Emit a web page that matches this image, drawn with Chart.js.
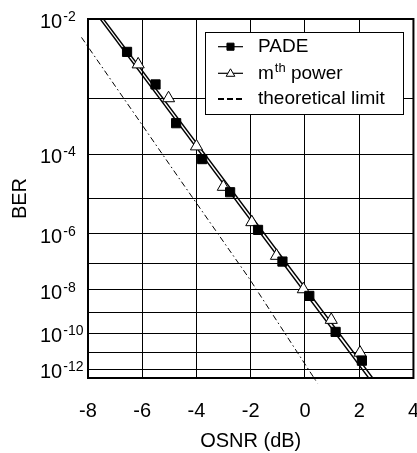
<!DOCTYPE html>
<html>
<head>
<meta charset="utf-8">
<script src="https://cdn.jsdelivr.net/npm/chart.js@4/dist/chart.umd.min.js"></script>
<style>
  html, body { margin: 0; padding: 0; overflow: hidden; background: #fff; }
  #wrap { width: 440px; height: 453px; }
</style>
</head>
<body>
<div id="wrap"><canvas id="c"></canvas></div>
<script>
// measured points: OSNR in dB, BER
const padeOsnr = [-6.56, -5.51, -4.75, -3.79, -2.76, -1.73, -0.83, 0.16, 1.13, 2.10];
const padeBer  = [4.3e-3, 1.6e-3, 3.9e-4, 8.0e-5, 1.4e-5, 1.3e-6, 1.2e-7, 5.6e-9, 1.2e-10, 3.2e-12];
const mthOsnr  = [-6.15, -5.03, -4.00, -3.01, -1.96, -1.05, -0.06, 0.97, 2.03];
const mthBer   = [3.0e-3, 1.0e-3, 1.45e-4, 1.9e-5, 2.2e-6, 1.9e-7, 1.06e-8, 4.7e-10, 9.3e-12];

// straight fits through each set (end points)
const padeFitOsnr = [-7.55, 2.35];
const padeFitBer  = [1e-2, 2.75e-13];
const mthFitOsnr  = [-7.43, 2.50];
const mthFitBer   = [1e-2, 2.75e-13];

// theoretical limit
const limitOsnr = [-8.24, -4.60, -2.06, 0.46];
const limitBer  = [6.35e-3, 2.77e-5, 2.89e-8, 1.26e-13];

const xTicks = [-8, -6, -4, -2, 0, 2, 4];
const berGrid = [-2, -3, -4, -5, -6, -7, -8, -9, -10, -11, -12];
const berLabels = [-2, -4, -6, -8, -10, -12];
const berTop = 1e-2;
const berBottom = 2.75e-13;

const FONT = '"Liberation Sans", Arial, Helvetica, sans-serif';

// BER axis: log10(-log10(BER)) is linear
const q = b => Math.log10(-Math.log10(b));
const pts = (xs, ys) => xs.map((x, i) => ({ x: x, y: q(ys[i]) }));

function marker(ctx, style, r, x, y, fill) {
  ctx.fillStyle = fill;
  ctx.strokeStyle = '#000';
  ctx.lineWidth = 1;
  Chart.helpers.drawPoint(ctx, { pointStyle: style, radius: r, borderWidth: 1, rotation: 0 }, x, y);
}

const decor = {
  id: 'decor',
  afterDraw(chart) {
    const { ctx, chartArea: a, scales: { y } } = chart;
    ctx.save();

    // plot frame
    ctx.strokeStyle = '#000';
    ctx.lineWidth = 2;
    ctx.setLineDash([]);
    ctx.strokeRect(a.left, a.top, a.right - a.left, a.bottom - a.top);

    // y labels as 10 with a raised exponent
    ctx.fillStyle = '#000';
    ctx.textAlign = 'left';
    ctx.textBaseline = 'alphabetic';
    berLabels.forEach(e => {
      const py = y.getPixelForValue(q(Math.pow(10, e)));
      ctx.font = '20px ' + FONT;
      ctx.fillText('10', 40, py + 9);
      const w = ctx.measureText('10').width;
      ctx.font = '14px ' + FONT;
      ctx.fillText(String(e), 40 + w + 1, py + 2);
    });

    // legend
    const bx = 205, by = 32, bw = 198, bh = 82;
    ctx.fillStyle = '#fff';
    ctx.fillRect(bx, by, bw, bh);
    ctx.strokeStyle = '#000';
    ctx.lineWidth = 1;
    ctx.strokeRect(bx + 0.5, by + 0.5, bw, bh);

    const rows = [46.7, 73.3, 99];
    const x0 = 218, x1 = 243, xm = 230.5, tx = 258;
    for (let i = 0; i < 3; i++) {
      ctx.beginPath();
      ctx.lineWidth = i === 2 ? 2 : 1.2;
      ctx.setLineDash(i === 2 ? [6, 3] : []);
      ctx.moveTo(x0, rows[i]);
      ctx.lineTo(x1, rows[i]);
      ctx.stroke();
    }
    ctx.setLineDash([]);
    marker(ctx, 'rect', 5, xm, rows[0], '#000');
    marker(ctx, 'triangle', 5, xm, rows[1] + 0.5, '#fff');

    ctx.fillStyle = '#000';
    ctx.textBaseline = 'middle';
    ctx.font = '19px ' + FONT;
    ctx.fillText('PADE', tx, rows[0]);
    ctx.fillText('m', tx, rows[1]);
    let w = ctx.measureText('m').width;
    ctx.font = '13px ' + FONT;
    ctx.fillText('th', tx + w + 1, rows[1] - 5);
    w += ctx.measureText('th').width + 1;
    ctx.font = '19px ' + FONT;
    ctx.fillText(' power', tx + w, rows[1]);
    ctx.fillText('theoretical limit', tx, rows[2]);

    ctx.restore();
  }
};

new Chart(document.getElementById('c'), {
  type: 'scatter',
  data: {
    datasets: [
      {
        label: 'PADE',
        data: pts(padeOsnr, padeBer),
        pointStyle: 'rect',
        pointRadius: 6.5,
        pointBackgroundColor: '#000',
        pointBorderColor: '#000',
        pointBorderWidth: 1,
        showLine: false
      },
      {
        label: 'mth power',
        data: pts(mthOsnr, mthBer),
        pointStyle: 'triangle',
        pointRadius: 7,
        pointBackgroundColor: '#fff',
        pointBorderColor: '#000',
        pointBorderWidth: 1,
        showLine: false
      },
      {
        label: 'PADE fit',
        data: pts(padeFitOsnr, padeFitBer),
        showLine: true,
        pointRadius: 0,
        borderColor: '#000',
        borderWidth: 1.4
      },
      {
        label: 'mth fit',
        data: pts(mthFitOsnr, mthFitBer),
        showLine: true,
        pointRadius: 0,
        borderColor: '#000',
        borderWidth: 1.4
      },
      {
        label: 'theoretical limit',
        data: pts(limitOsnr, limitBer),
        showLine: true,
        pointRadius: 0,
        borderColor: '#000',
        borderWidth: 1,
        borderDash: [6, 3, 1.5, 3],
        clip: false
      }
    ]
  },
  options: {
    responsive: true,
    maintainAspectRatio: false,
    animation: false,
    devicePixelRatio: 1,
    layout: { padding: { top: 19, right: 22, left: 0, bottom: 0 } },
    plugins: { legend: { display: false }, tooltip: { enabled: false } },
    scales: {
      x: {
        type: 'linear',
        min: -8,
        max: 4,
        afterBuildTicks: s => { s.ticks = xTicks.map(v => ({ value: v })); },
        afterFit: s => { s.height = 75; },
        grid: { color: '#000', lineWidth: 1, drawTicks: false },
        border: { display: false },
        ticks: { color: '#000', font: { family: FONT, size: 20 }, padding: 21, maxRotation: 0, autoSkip: false },
        title: { display: true, text: 'OSNR (dB)', color: '#000', font: { family: FONT, size: 20 }, padding: { top: 0, bottom: 0 } }
      },
      y: {
        type: 'linear',
        reverse: true,
        min: q(berTop),
        max: q(berBottom),
        afterBuildTicks: s => { s.ticks = berGrid.map(e => ({ value: q(Math.pow(10, e)) })); },
        afterFit: s => { s.width = 88; },
        grid: { color: '#000', lineWidth: 1, drawTicks: false },
        border: { display: false },
        ticks: { display: false },
        title: { display: true, text: 'BER', color: '#000', font: { family: FONT, size: 20 }, padding: { top: 8, bottom: 0 } }
      }
    }
  },
  plugins: [decor]
});
</script>
</body>
</html>
